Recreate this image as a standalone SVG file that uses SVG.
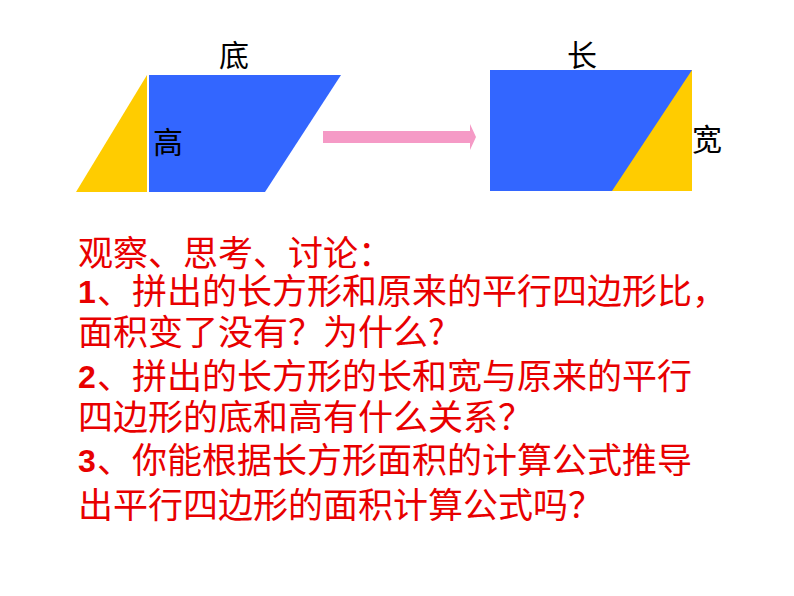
<svg xmlns="http://www.w3.org/2000/svg" width="794" height="596" viewBox="0 0 794 596">
  <style>
    .blue { fill: #3366FF; }
    .yellow { fill: #FFCC00; }
    .lbl { font-family: "Noto Sans CJK SC", "Noto Sans", sans-serif; font-size: 30px; fill: #000; }
    .q { font-family: "Noto Sans CJK SC", "Noto Sans", sans-serif; font-size: 35px; fill: #E80000; }
    .num { font-family: "Liberation Sans", "Noto Sans", sans-serif; font-weight: bold; font-size: 32px; fill: #E80000; }
  </style>
  <rect width="794" height="596" fill="#FFFFFF"/>

  <g id="parallelogram">
    <polygon class="yellow" points="76,192 147,75 147,192"/>
    <polygon class="blue" points="149,75 341,75 265,192 149,192"/>
    <text class="lbl" x="234" y="66" text-anchor="middle">底</text>
    <text class="lbl" x="153" y="153">高</text>
  </g>

  <g id="connectors">
    <polygon fill="#F59AC6" points="323,131 470,131 470,124 476,137 470,150 470,143 323,143"/>
  </g>

  <g id="rectangle">
    <rect class="blue" x="490" y="70" width="202" height="121"/>
    <polygon class="yellow" points="692,70 692,191 612,191"/>
    <text class="lbl" x="582" y="66" text-anchor="middle">长</text>
    <text class="lbl" x="692" y="150">宽</text>
  </g>

  <g id="questions">
    <text class="q" x="78" y="266">观察、思考、讨论：</text>
    <text class="num" x="78" y="303">1</text>
    <text class="q" x="97" y="304">、拼出的长方形和原来的平行四边形比，</text>
    <text class="q" x="78" y="345">面积变了没有？为什么?</text>
    <text class="num" x="78" y="388">2</text>
    <text class="q" x="97" y="389">、拼出的长方形的长和宽与原来的平行</text>
    <text class="q" x="78" y="430">四边形的底和高有什么关系？</text>
    <text class="num" x="78" y="472">3</text>
    <text class="q" x="97" y="473">、你能根据长方形面积的计算公式推导</text>
    <text class="q" x="78" y="518">出平行四边形的面积计算公式吗？</text>
  </g>
</svg>
